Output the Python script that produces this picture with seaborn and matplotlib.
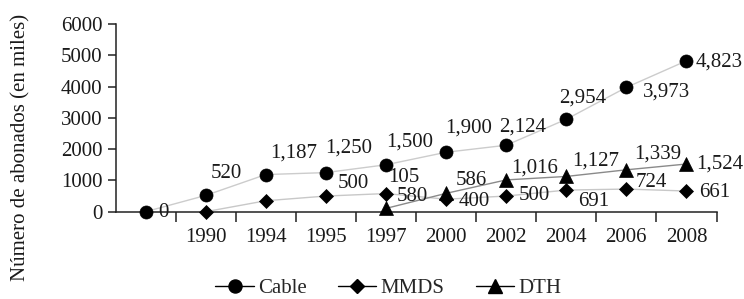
import seaborn as sns
import matplotlib
matplotlib.use("Agg")
import matplotlib.pyplot as plt
from matplotlib.lines import Line2D
from matplotlib.ticker import FixedLocator
import numpy as np
import pandas as pd

# data
years = ['', '1990', '1994', '1995', '1997', '2000', '2002', '2004', '2006', '2008']
cable = [0, 520, 1187, 1250, 1500, 1900, 2124, 2954, 3973, 4823]
mmds = [np.nan, 0, 350, 500, 580, 400, 500, 691, 724, 661]
dth = [np.nan, np.nan, np.nan, np.nan, 105, 586, 1016, 1127, 1339, 1524]
cable_labels = ['0', '520', '1,187', '1,250', '1,500', '1,900', '2,124', '2,954', '3,973', '4,823']
mmds_labels = [None, None, None, '500', '580', '400', '500', '691', '724', '661']
dth_labels = [None, None, None, None, '105', '586', '1,016', '1,127', '1,339', '1,524']

# label offsets in pixels (dx right, dy down)
cable_off = [(18, 1), (21, -22), (28, -22), (23, -25), (24, -23), (23, -24), (16, -18), (16, -21), (40, 5), (33, 1)]
mmds_off = [None, None, None, (27, -13), (26, 3), (28, 2), (28, -1), (27, 11), (25, -7), (28, 1)]
dth_off = [None, None, None, None, (18, -31), (25, -13), (28, -12), (29, -15), (31, -16), (33, 0)]

series = {
    'Cable': dict(vals=cable, labels=cable_labels, off=cable_off, marker='o', ms=9.4, line='#cccccc'),
    'MMDS': dict(vals=mmds, labels=mmds_labels, off=mmds_off, marker='D', ms=7.2, line='#c8c8c8'),
    'DTH': dict(vals=dth, labels=dth_labels, off=dth_off, marker='^', ms=9.5, line='#8a8a8a'),
}

rows = []
for name, s in series.items():
    for i, (yr, v) in enumerate(zip(years, s['vals'])):
        rows.append({'pos': i, 'year': yr, 'serie': name, 'valor': v})
df = pd.DataFrame(rows).dropna()

sns.set_style('ticks')
plt.rcParams['font.family'] = ['Liberation Serif', 'DejaVu Serif']
plt.rcParams['font.size'] = 15

fig = plt.figure(figsize=(7.44, 2.99), dpi=100)
ax = fig.add_axes([115.5 / 744, 1 - 211.7 / 299, 601 / 744, (211.7 - 24) / 299])

for name, s in series.items():
    sub = df[df['serie'] == name]
    sns.lineplot(data=sub, x='pos', y='valor', ax=ax, color=s['line'], lw=1.0,
                 marker=s['marker'], markersize=s['ms'], markerfacecolor='black',
                 markeredgecolor='black', markeredgewidth=0.5, clip_on=False,
                 legend=False, zorder=3)
    for i, (v, lab, off) in enumerate(zip(s['vals'], s['labels'], s['off'])):
        if lab is None:
            continue
        ax.annotate(lab, (i, v), xytext=(off[0] * 0.72, -off[1] * 0.72),
                    textcoords='offset points', ha='center', va='center',
                    fontsize=15, color='#1a1a1a', zorder=4)

ax.set_xlim(-0.5, len(years) - 0.5)
ax.set_ylim(0, 6000)
ax.set_yticks(range(0, 6001, 1000))
ax.xaxis.set_major_locator(FixedLocator(np.arange(0.5, len(years), 1.0)))
ax.xaxis.set_minor_locator(FixedLocator(np.arange(len(years))))
ax.set_xticklabels([], minor=False)
ax.set_xticklabels(years, minor=True)
ax.tick_params(axis='x', which='major', length=7.5, width=1.1, direction='out', color='#222222')
ax.tick_params(axis='x', which='minor', length=0, pad=12, labelsize=15, labelcolor='#1a1a1a')
ax.tick_params(axis='y', length=5.8, width=1.1, pad=3.5, labelsize=15, labelcolor='#1a1a1a', color='#222222')
ax.set_xlabel('')
ax.set_ylabel('Número de abonados (en miles)', fontsize=15, color='#1a1a1a')
ax.yaxis.set_label_coords(-0.142, 0.34)

for side in ['top', 'right']:
    ax.spines[side].set_visible(False)
for side in ['left', 'bottom']:
    ax.spines[side].set_linewidth(1.1)
    ax.spines[side].set_color('#222222')

handles = [Line2D([], [], color='black', lw=1.0, marker=s['marker'], markersize=s['ms'],
                  markerfacecolor='black', markeredgecolor='black', label=name)
           for name, s in series.items()]
fig.legend(handles=handles, loc='center', bbox_to_anchor=(0.522, 0.035), ncol=3,
           frameon=False, fontsize=15, handlelength=1.85, handletextpad=0.2,
           columnspacing=1.5, borderaxespad=0, borderpad=0)

fig.savefig('out.png', dpi=100)
